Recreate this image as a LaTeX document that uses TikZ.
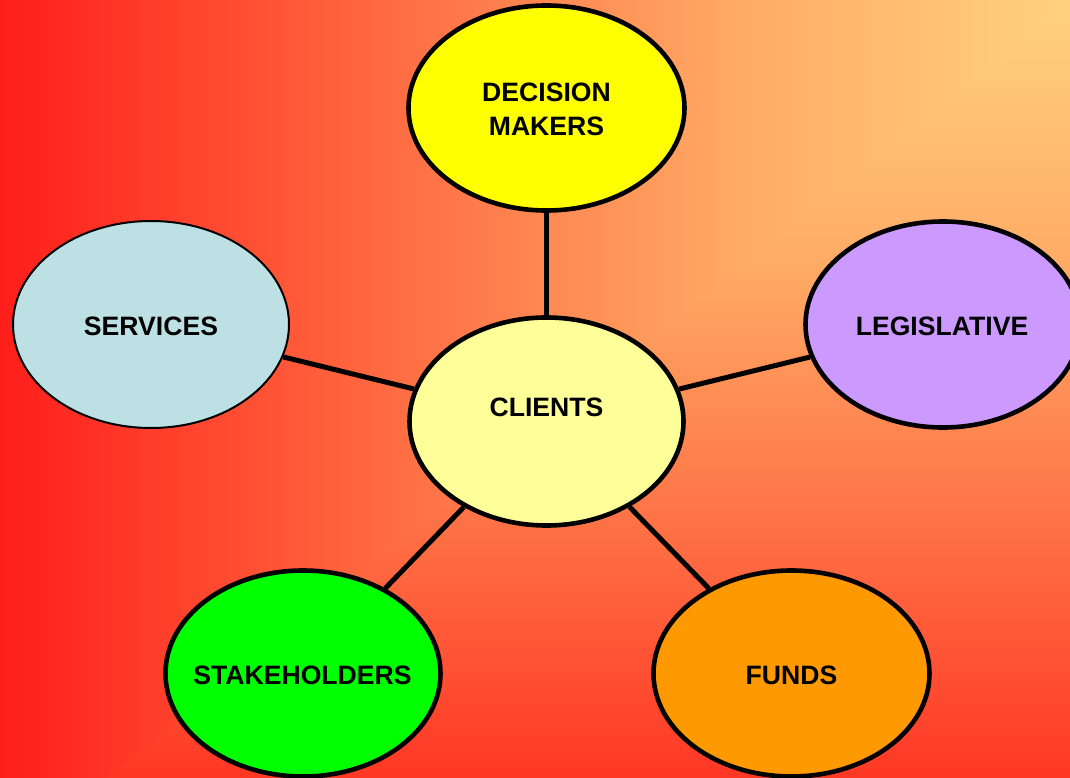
\documentclass[tikz,border=0pt]{standalone}
\usepackage{fontspec}
\setmainfont{Liberation Sans}
\usetikzlibrary{shapes.geometric}
\definecolor{bgRed}{HTML}{FF1E1A}
\definecolor{bgBot}{HTML}{FF3725}
\definecolor{bgMid}{HTML}{FF7346}
\definecolor{bgLt}{HTML}{FFAC66}
\definecolor{bgTop}{HTML}{FFD27F}
\definecolor{cDecision}{HTML}{FFFF00}
\definecolor{cServices}{HTML}{BCE0E3}
\definecolor{cLegis}{HTML}{CC99FF}
\definecolor{cClients}{HTML}{FFFF99}
\definecolor{cStake}{HTML}{00FF00}
\definecolor{cFunds}{HTML}{FF9900}
\pgfdeclarehorizontalshading{bgh}{100bp}{color(0bp)=(bgRed); color(25bp)=(bgRed); color(45bp)=(bgMid); color(60bp)=(bgLt); color(75bp)=(bgTop); color(100bp)=(bgTop)}
\pgfdeclareverticalshading{bgv}{100bp}{color(0bp)=(bgBot); color(25bp)=(bgBot); color(41.7bp)=(bgMid); color(58.3bp)=(bgLt); color(75bp)=(bgTop); color(100bp)=(bgTop)}
\pgfdeclarelayer{bg}
\pgfdeclarelayer{edges}
\pgfsetlayers{bg,edges,main}
\begin{document}
\begin{tikzpicture}[x=1pt,y=-1pt,
  bubble/.style={ellipse, draw=black, line width=4.6pt, inner sep=0pt,
    minimum width=276pt, minimum height=206pt},
  txt/.style={font=\fontsize{26.6}{34}\selectfont\bfseries, text=black, align=center, inner sep=0pt},
  link/.style={draw=black, line width=5pt}]
\useasboundingbox (0,0) rectangle (1070,778);
\begin{pgfonlayer}{bg}
\shade[shading=bgv] (0,0) rectangle (1070,778);
\shade[shading=bgh] (0,0) -- (1070,0) -- (107,778) -- (0,778) -- cycle;
\end{pgfonlayer}

\node[bubble, fill=cDecision, minimum height=205pt] (decision) at (546.5,108) {};
\node[txt] (decisiontext) at (546.5,109) {DECISION\\MAKERS};

\node[bubble, fill=cServices, line width=2pt, minimum width=276pt, minimum height=207pt] (services) at (151,324.5) {};
\node[txt] (servicestext) at (151,326) {SERVICES};

\node[bubble, fill=cLegis, minimum width=275pt] (legislative) at (943,324.5) {};
\node[txt] (legistext) at (942,326) {LEGISLATIVE};

\node[bubble, fill=cClients, minimum width=274pt, minimum height=208pt] (clients) at (546.5,421.5) {};
\node[txt] (clientstext) at (546.5,407) {CLIENTS};

\node[bubble, fill=cStake, minimum width=275pt] (stake) at (303,673.5) {};
\node[txt] (staketext) at (302.5,675.5) {STAKEHOLDERS};

\node[bubble, fill=cFunds] (funds) at (791.5,673.5) {};
\node[txt] (fundstext) at (791.5,675.5) {FUNDS};

\begin{pgfonlayer}{edges}
\draw[link] (decision) -- (clients);
\draw[link] (services) -- (clients);
\draw[link] (legislative) -- (clients);
\draw[link] (stake) -- (clients);
\draw[link] (funds) -- (clients);
\end{pgfonlayer}
\end{tikzpicture}
\end{document}
